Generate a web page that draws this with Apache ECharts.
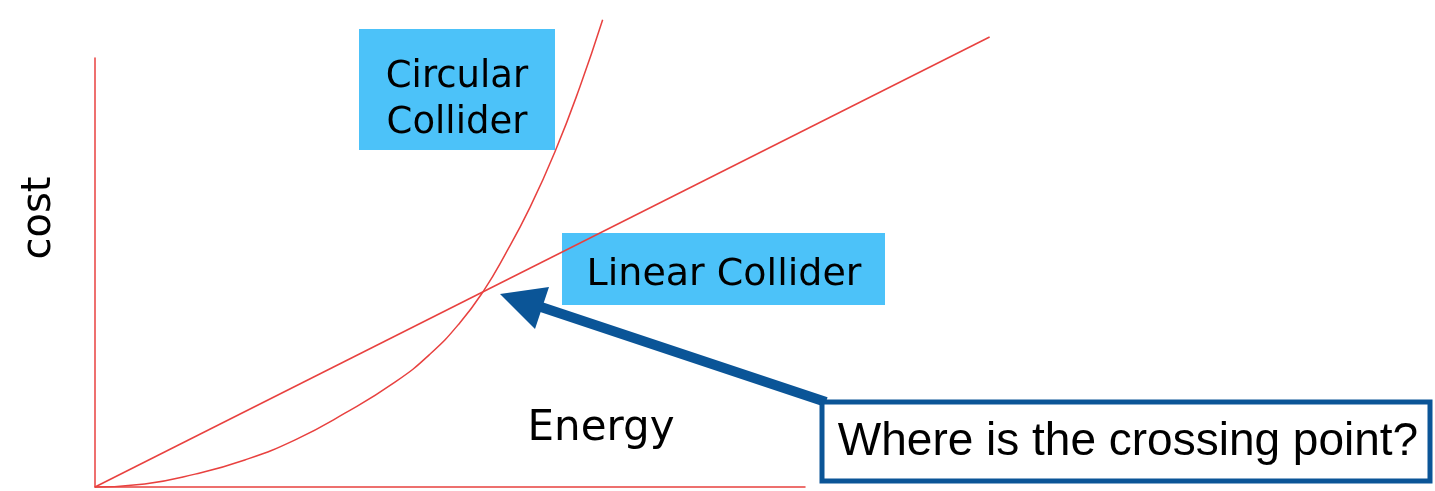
<!DOCTYPE html>
<html>
<head>
<meta charset="utf-8">
<script src="https://cdn.jsdelivr.net/npm/echarts@6/dist/echarts.min.js"></script>
<style>
  html, body { margin: 0; padding: 0; background: #fff; }
  #main { width: 1435px; height: 491px; }
</style>
</head>
<body>
<div id="main"></div>
<script>
// energy (x) and cost (y) in arbitrary units
var linearEnergy = [0, 12.6];
var linearCost = [0, 10.49];

var circularEnergy = [0, 0.70, 1.41, 2.11, 2.82, 3.52, 4.23, 4.72, 5.14, 5.48, 5.77, 6.13, 6.48, 6.83, 7.15];
var circularCost   = [0, 0.07, 0.30, 0.63, 1.10, 1.72, 2.45, 3.10, 3.83, 4.59, 5.40, 6.53, 7.82, 9.33, 10.89];

function pairs(xs, ys) {
    var out = [];
    for (var i = 0; i < xs.length; i++) out.push([xs[i], ys[i]]);
    return out;
}

var red = '#e8413f';
var blue = '#0b5597';
var boxBlue = '#4cc2f9';
var hand = '"DejaVu Sans", sans-serif';

var myChart = echarts.init(document.getElementById('main'), null, { renderer: 'canvas' });

var hiddenAxis = {
    axisLine: { show: false }, axisTick: { show: false },
    axisLabel: { show: false }, splitLine: { show: false }
};
var redAxis = {
    axisLine: { show: true, onZero: false, lineStyle: { color: red, width: 1.5 } },
    axisTick: { show: false }, axisLabel: { show: false }, splitLine: { show: false }
};

option = {
    animation: false,
    backgroundColor: '#fff',
    // grid 0 holds the curves (wide enough for the linear line), grid 1 draws the short axes
    grid: [
        { left: 95, top: 58, width: 1065, height: 429 },
        { left: 95, top: 58, width: 710, height: 429 }
    ],
    xAxis: [
        Object.assign({ type: 'value', gridIndex: 0, min: 0, max: 15 }, hiddenAxis),
        Object.assign({ type: 'value', gridIndex: 1, min: 0, max: 10 }, redAxis)
    ],
    yAxis: [
        Object.assign({ type: 'value', gridIndex: 0, min: 0, max: 10 }, hiddenAxis),
        Object.assign({ type: 'value', gridIndex: 1, min: 0, max: 10 }, redAxis)
    ],
    series: [
        {
            name: 'Linear Collider',
            type: 'line',
            xAxisIndex: 0, yAxisIndex: 0,
            clip: false,
            showSymbol: false,
            lineStyle: { color: red, width: 1.5 },
            data: pairs(linearEnergy, linearCost)
        },
        {
            name: 'Circular Collider',
            type: 'line',
            xAxisIndex: 0, yAxisIndex: 0,
            clip: false,
            smooth: 0.5,
            showSymbol: false,
            lineStyle: { color: red, width: 1.5 },
            data: pairs(circularEnergy, circularCost)
        }
    ],
    graphic: [
        // label boxes
        { type: 'rect', shape: { x: 359, y: 29, width: 196, height: 121 }, style: { fill: boxBlue } },
        { type: 'text', x: 457, y: 77, style: { text: 'Circular', font: '37px ' + hand, fill: '#000', textAlign: 'center', textVerticalAlign: 'middle' } },
        { type: 'text', x: 457, y: 123, style: { text: 'Collider', font: '37px ' + hand, fill: '#000', textAlign: 'center', textVerticalAlign: 'middle' } },
        { type: 'rect', shape: { x: 562, y: 233, width: 323, height: 72 }, style: { fill: boxBlue } },
        { type: 'text', x: 724, y: 275, style: { text: 'Linear Collider', font: '38px ' + hand, fill: '#000', textAlign: 'center', textVerticalAlign: 'middle' } },
        // axis titles
        { type: 'text', x: 601, y: 429, style: { text: 'Energy', font: '42px ' + hand, fill: '#000', textAlign: 'center', textVerticalAlign: 'middle' } },
        { type: 'text', x: 40, y: 218, rotation: Math.PI / 2, style: { text: 'cost', font: '40px ' + hand, fill: '#000', textAlign: 'center', textVerticalAlign: 'middle' } },
        // arrow to crossing point
        { type: 'line', shape: { x1: 826, y1: 402, x2: 535, y2: 305 }, style: { stroke: blue, lineWidth: 10 } },
        { type: 'polygon', shape: { points: [[500, 294], [549, 287], [535, 329]] }, style: { fill: blue } },
        // callout
        { type: 'rect', shape: { x: 822, y: 402, width: 608, height: 79 }, style: { fill: '#fff', stroke: blue, lineWidth: 5 } },
        { type: 'text', x: 1128, y: 442, style: { text: 'Where is the crossing point?', font: '46px "Liberation Sans", Arial, sans-serif', fill: '#000', textAlign: 'center', textVerticalAlign: 'middle' } }
    ]
};

myChart.setOption(option);
</script>
</body>
</html>
